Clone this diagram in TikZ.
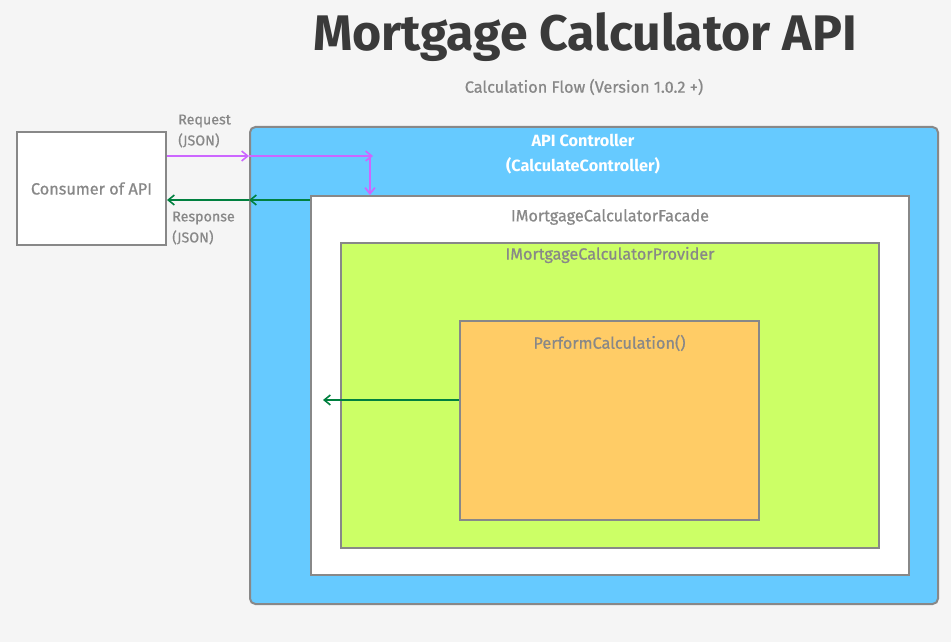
\documentclass[tikz,border=0pt]{standalone}
\usepackage{fontspec}
\setmainfont{Fira Sans}
\newfontfamily\mcfont[FakeBold=0.7]{Fira Sans}
\usepackage{xcolor}
\usetikzlibrary{arrows.meta,positioning,calc}
\definecolor{mcback}{HTML}{F5F5F5}
\definecolor{mcline}{HTML}{888888}
\definecolor{mctext}{HTML}{3A3A3A}
\definecolor{mcblue}{HTML}{66CAFF}
\definecolor{mclime}{HTML}{CCFF66}
\definecolor{mcorange}{HTML}{FFCC66}
\definecolor{mcpurple}{HTML}{CC66FF}
\definecolor{mcgreen}{HTML}{00803F}
\tikzset{
  layer/.style={rectangle, draw=mcline, line width=1.5pt, inner sep=0pt},
  layertext/.style={font=\mcfont\fontsize{12.2}{14}\selectfont, text=mcline, inner sep=0pt, anchor=center},
  req/.style={draw=mcpurple, line width=1.2pt, -{Straight Barb[length=1.6mm,width=2.6mm]}},
  resp/.style={draw=mcgreen, line width=1.2pt, -{Straight Barb[length=1.6mm,width=2.6mm]}},
  flowlabel/.style={font=\mcfont\fontsize{10.7}{15.75}\selectfont, text=mcline, align=left, inner sep=0pt},
}

\begin{document}
\begin{tikzpicture}[x=0.75pt,y=-0.75pt]
  \fill[mcback] (0,0) rectangle (951,642);
  \useasboundingbox (0,0) rectangle (951,642);
  % headings
  \node[font=\fontsize{37.5}{40}\selectfont\bfseries, text=mctext] (title) at (585,37) {Mortgage Calculator API};
  \node[layertext] (subtitle) at (584,87) {Calculation Flow (Version 1.0.2 +)};
  % boxes
  \node[layer, fill=white, minimum width=111.75pt, minimum height=84.75pt] (consumer) at (91.5,188.5) {};
  \node[layertext] at (consumer) {Consumer of API};
  \node[layer, fill=mcblue, rounded corners=4pt, minimum width=516pt, minimum height=357.75pt] (api) at (594,365.5) {};
  \node[layertext, text=white, font=\fontsize{12.2}{18.75}\selectfont\bfseries, align=center, anchor=north] (apilabel) at ($(api.north)+(-11,8)$) {API Controller\\(CalculateController)};
  \node[layer, fill=white, minimum width=448.5pt, minimum height=284.25pt] (facade) at (610,385.5) {};
  \node[layertext] at ($(facade.north)+(0,22)$) {IMortgageCalculatorFacade};
  \node[layer, fill=mclime, minimum width=403.5pt, minimum height=228.75pt] (provider) at (610,395.5) {};
  \node[layertext] at ($(provider.north)+(0,13)$) {IMortgageCalculatorProvider};
  \node[layer, fill=mcorange, minimum width=224.25pt, minimum height=149.25pt] (perform) at (609.5,420.5) {};
  \node[layertext] at ($(perform.north)+(0,23)$) {PerformCalculation()};
  % request path
  \coordinate (reqturn) at (373,156);
  \coordinate (reqdown) at (370,156);
  \draw[req] (consumer.east |- reqturn) -- (api.west |- reqturn);
  \draw[req] (api.west |- reqturn) -- (reqturn);
  \draw[req] (reqdown) -- (reqdown |- facade.north);
  \node[flowlabel, anchor=west] (reqlabel) at (178,131) {Request\\(JSON)};
  % response path
  \coordinate (respout) at (311,200);
  \coordinate (resphead) at (323,400);
  \draw[resp] (facade.west |- respout) -- (api.west |- respout);
  \draw[resp] (api.west |- respout) -- (consumer.east |- respout);
  \draw[resp] (perform.west |- resphead) -- (resphead);
  \node[flowlabel, anchor=west] (resplabel) at (172,228) {Response\\(JSON)};
\end{tikzpicture}
\end{document}
